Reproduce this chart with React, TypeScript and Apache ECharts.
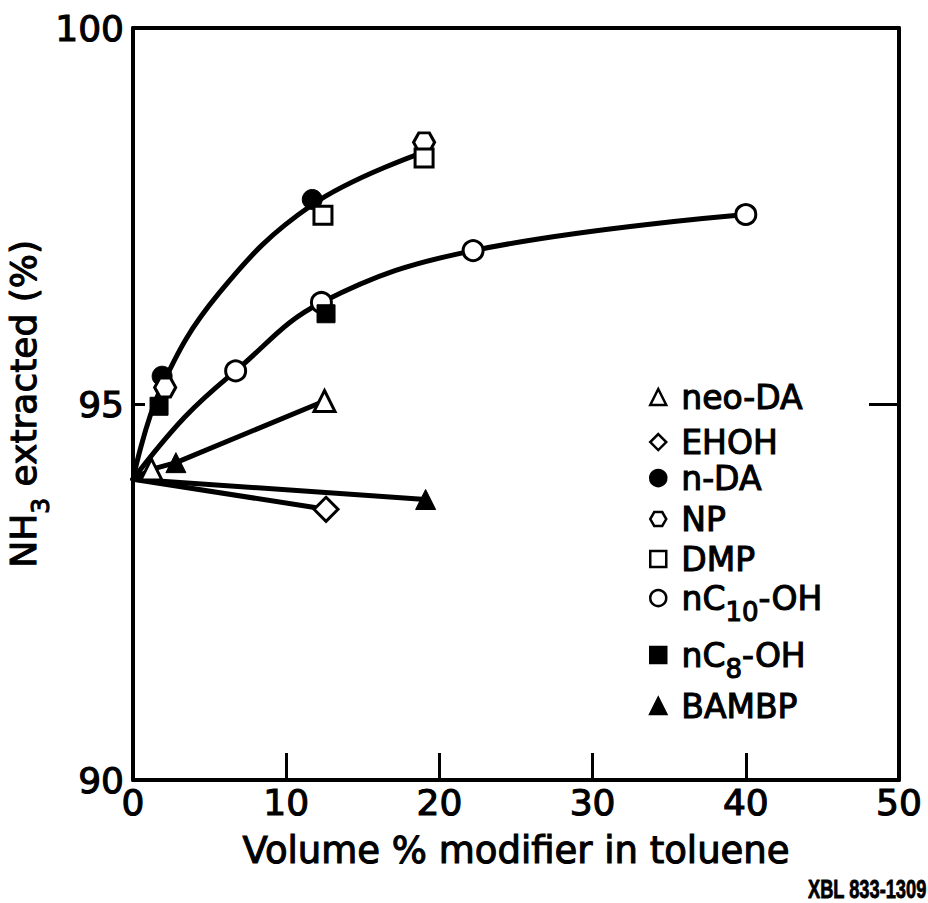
import { useEffect, useRef } from "react";
import * as echarts from "echarts";

// Measured points: [volume % modifier in toluene, NH3 extracted (%)]
const neoDA = [[1.2, 94.13], [12.5, 95.04]];
const ehoh = [[12.6, 93.6]];
const nDA = [[1.9, 95.37], [11.7, 97.72]];
const np = [[2.1, 95.22], [19.0, 98.48]];
const dmp = [[12.4, 97.51], [19.0, 98.27]];
const nC10OH = [[6.7, 95.44], [12.3, 96.35], [22.2, 97.04], [40.0, 97.52]];
const nC8OH = [[1.7, 94.97], [12.6, 96.2]];
const bambp = [[2.8, 94.22], [19.1, 93.73]];

// Trend curves drawn through the data (nodes along each curve)
const curveUpper = [[0, 94.0], [1.8, 95.2], [5.6, 96.47], [11.7, 97.65], [19.0, 98.35]];
const curveLower = [[0, 94.0], [3.4, 94.83], [6.7, 95.44], [12.3, 96.35], [22.2, 97.04], [40.0, 97.52]];
const curveNeo = [[0, 94.0], [1.2, 94.13], [2.8, 94.22], [12.5, 95.04]];
const curveEhoh = [[0, 94.0], [12.6, 93.6]];
const curveBambp = [[0, 94.0], [19.1, 93.73]];

const legendNames = ["neo-DA", "EHOH", "n-DA", "NP", "DMP", "nC10-OH", "nC8-OH", "BAMBP"];
const legendCenters = [396, 441, 477, 518, 558, 598, 655, 705];

const FONT = "DejaVu Sans";
const HEX = "path://M3,0 L9,0 L12,5.2 L9,10.4 L3,10.4 L0,5.2 Z";
// slight outline thickens the strokes of the lettering
const INK = { color: "#000", textBorderColor: "#000", textBorderWidth: 1.1 };

const legendLabel = (name: string) => {
  const m = name.match(/^nC(\d+)-OH$/);
  if (m) return `{g| }{t|nC}{s|${m[1]}}{t|-OH}`;
  return `{t|${name}}`;
};

export default function App() {
  const ref = useRef<HTMLDivElement>(null);

  useEffect(() => {
    if (!ref.current) return;
    const chart = echarts.init(ref.current, null, { renderer: "svg" });

    const open = { color: "#fff", borderColor: "#000", borderWidth: 3, opacity: 1 };
    const solid = { color: "#000", borderColor: "#000", borderWidth: 1, opacity: 1 };

    const markerSeries = [
      { name: "neo-DA", data: neoDA, symbol: "triangle", symbolSize: 21, itemStyle: open },
      { name: "EHOH", data: ehoh, symbol: "diamond", symbolSize: 24, itemStyle: open },
      { name: "n-DA", data: nDA, symbol: "circle", symbolSize: 20, itemStyle: solid },
      { name: "NP", data: np, symbol: HEX, symbolSize: [21, 19], itemStyle: open },
      { name: "DMP", data: dmp, symbol: "rect", symbolSize: 18, itemStyle: open },
      { name: "nC10-OH", data: nC10OH, symbol: "circle", symbolSize: 20, itemStyle: open },
      { name: "nC8-OH", data: nC8OH, symbol: "rect", symbolSize: 18, itemStyle: solid },
      { name: "BAMBP", data: bambp, symbol: "triangle", symbolSize: 20, itemStyle: solid },
    ].map((s) => ({ type: "scatter", z: 5, ...s }));

    const curve = (data: number[][], smooth: number | boolean) => ({
      type: "line",
      data,
      smooth,
      showSymbol: false,
      symbol: "none",
      silent: true,
      z: 2,
      lineStyle: { color: "#000", width: 5, cap: "round", join: "round" },
    });

    const legends = legendNames.map((name, i) => {
      const hasSub = /^nC\d+-OH$/.test(name);
      const boxH = hasSub ? 54 : 32;
      return {
        data: [{ name }],
        left: 644,
        top: legendCenters[i] + (hasSub ? 5 : -5) - boxH / 2,
        orient: "vertical",
        selectedMode: false,
        itemWidth: 16,
        itemHeight: 16,
        itemStyle: { borderWidth: 2.5, opacity: 1 },
        formatter: legendLabel,
        textStyle: {
          padding: [0, 0, 0, 10],
          rich: {
            g: { fontSize: 1, lineHeight: 54, verticalAlign: "middle" },
            t: { fontFamily: FONT, fontSize: 33, lineHeight: 32, verticalAlign: "middle", ...INK },
            s: { fontFamily: FONT, fontSize: 26, lineHeight: 26, verticalAlign: "bottom", ...INK },
          },
        },
      };
    });

    chart.setOption({
      animation: false,
      backgroundColor: "#fff",
      textStyle: { fontFamily: FONT, color: "#000" },
      grid: { left: 133, right: 29, top: 28, bottom: 123, containLabel: false, outerBoundsMode: "none" },
      legend: legends,
      xAxis: [
        {
          type: "value",
          min: 0,
          max: 50,
          interval: 10,
          position: "bottom",
          axisLine: { show: true, onZero: false, lineStyle: { color: "#000", width: 4 } },
          axisTick: { show: true, inside: true, length: 27, lineStyle: { color: "#000", width: 3 } },
          axisLabel: { fontFamily: FONT, fontSize: 36, margin: 4, ...INK },
          splitLine: { show: false },
          name: "Volume % modifier in toluene",
          nameLocation: "middle",
          nameGap: 52,
          nameTextStyle: { fontFamily: FONT, fontSize: 37, ...INK },
        },
        {
          type: "value",
          min: 0,
          max: 50,
          position: "top",
          axisLine: { show: true, onZero: false, lineStyle: { color: "#000", width: 4 } },
          axisTick: { show: false },
          axisLabel: { show: false },
          splitLine: { show: false },
        },
      ],
      yAxis: [
        {
          type: "value",
          min: 90,
          max: 100,
          interval: 5,
          position: "left",
          axisLine: { show: true, onZero: false, lineStyle: { color: "#000", width: 4 } },
          axisTick: { show: true, inside: true, length: 12, lineStyle: { color: "#000", width: 3 } },
          axisLabel: { fontFamily: FONT, fontSize: 36, margin: 9, ...INK },
          splitLine: { show: false },
          name: "{g| }{t|NH}{s|3}{t| extracted (%)}",
          nameLocation: "middle",
          nameGap: 80,
          nameMoveOverlap: false,
          nameTextStyle: {
            rich: {
              g: { fontSize: 1, lineHeight: 48, verticalAlign: "middle" },
              t: { fontFamily: FONT, fontSize: 36, lineHeight: 36, verticalAlign: "top", ...INK },
              s: { fontFamily: FONT, fontSize: 25, lineHeight: 25, verticalAlign: "bottom", ...INK },
            },
          },
        },
        {
          type: "value",
          min: 90,
          max: 100,
          interval: 5,
          position: "right",
          axisLine: { show: true, onZero: false, lineStyle: { color: "#000", width: 4 } },
          axisTick: { show: true, inside: true, length: 30, lineStyle: { color: "#000", width: 3 } },
          axisLabel: { show: false },
          splitLine: { show: false },
        },
      ],
      graphic: [
        {
          type: "text",
          x: 808,
          y: 877,
          scaleX: 0.73,
          style: {
            text: "XBL 833-1309",
            fontFamily: "Liberation Sans",
            fontWeight: "bold",
            fontSize: 25,
            fill: "#000",
            stroke: "#000",
            lineWidth: 0.8,
            textVerticalAlign: "top",
          },
        },
      ],
      series: [
        curve(curveUpper, 0.4),
        curve(curveLower, 0.4),
        curve(curveNeo, false),
        curve(curveEhoh, false),
        curve(curveBambp, false),
        ...markerSeries,
      ],
    });

    return () => chart.dispose();
  }, []);

  return (
    <div
      ref={ref}
      style={{ position: "fixed", left: 0, top: 0, width: 928, height: 903, background: "#fff" }}
    />
  );
}
